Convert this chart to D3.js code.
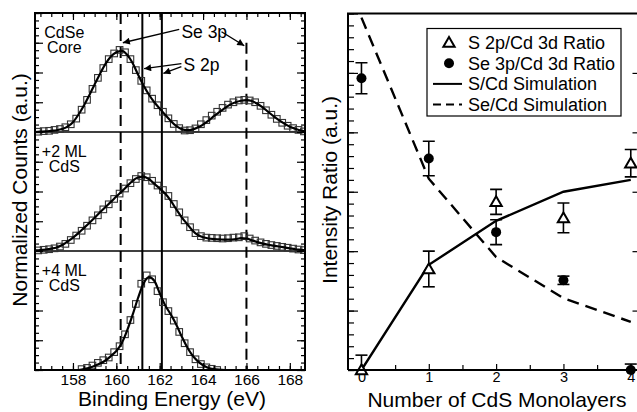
<!DOCTYPE html>
<html>
<head>
<meta charset="utf-8">
<script src="https://cdn.jsdelivr.net/npm/d3@7"></script>
<style>
  body { margin: 0; background: #fff; }
  text { font-family: "Liberation Sans", Arial, Helvetica, sans-serif; fill: #000; }
</style>
</head>
<body>
<div id="chart"></div>
<script>
// ---- data: XPS spectra (left panel) ----
const energyTicks = [158, 160, 162, 164, 166, 168];
const layerTicks = [0, 1, 2, 3, 4];

// fit curves, energy grid shared by the core and +2 ML spectra
const fitE = [156.25, 156.5, 156.75, 157, 157.25, 157.5, 157.75, 158, 158.25, 158.5, 158.75,
  159, 159.25, 159.5, 159.75, 160, 160.25, 160.5, 160.75, 161, 161.25, 161.5, 161.75,
  162, 162.25, 162.5, 162.75, 163, 163.25, 163.5, 163.75, 164, 164.25, 164.5, 164.75,
  165, 165.25, 165.5, 165.75, 166, 166.25, 166.5, 166.75, 167, 167.25, 167.5, 167.75,
  168, 168.25, 168.5, 168.75];
const coreFit = [0, 0.01, 0.02, 0.04, 0.06, 0.1, 0.18, 0.33, 0.58, 0.88, 1.23,
  1.6, 1.96, 2.29, 2.54, 2.68, 2.73, 2.6, 2.32, 1.93, 1.57, 1.26, 1.0,
  0.79, 0.58, 0.38, 0.21, 0.1, 0.06, 0.08, 0.15, 0.25, 0.38, 0.53, 0.67,
  0.8, 0.92, 1.0, 1.05, 1.07, 1.04, 0.95, 0.83, 0.68, 0.53, 0.4, 0.28,
  0.18, 0.11, 0.05, 0.02];
const ml2Fit = [0.02, 0.03, 0.05, 0.08, 0.12, 0.2, 0.32, 0.45, 0.6, 0.77, 0.94,
  1.12, 1.3, 1.48, 1.65, 1.83, 2.0, 2.18, 2.36, 2.47, 2.5, 2.42, 2.26,
  2.1, 1.93, 1.7, 1.42, 1.15, 0.92, 0.7, 0.54, 0.46, 0.42, 0.4, 0.39,
  0.38, 0.38, 0.4, 0.43, 0.42, 0.36, 0.3, 0.25, 0.21, 0.18, 0.15, 0.12,
  0.09, 0.06, 0.04, 0.02];

// measured points (squares)
const sqE = [156.4, 156.65, 156.9, 157.15, 157.4, 157.65, 157.9, 158.15, 158.4, 158.65,
  158.9, 159.15, 159.4, 159.65, 159.9, 160.15, 160.4, 160.65, 160.9, 161.15,
  161.4, 161.65, 161.9, 162.15, 162.4, 162.65, 162.9, 163.15, 163.4, 163.65,
  163.9, 164.15, 164.4, 164.65, 164.9, 165.15, 165.4, 165.65, 165.9, 166.15,
  166.4, 166.65, 166.9, 167.15, 167.4, 167.65, 167.9, 168.15, 168.4, 168.65];
const coreSq = [0.01, 0.03, 0.04, 0.07, 0.1, 0.16, 0.26, 0.45, 0.75, 1.08,
  1.45, 1.82, 2.15, 2.45, 2.64, 2.76, 2.68, 2.45, 2.08, 1.72,
  1.4, 1.12, 0.9, 0.68, 0.46, 0.27, 0.13, 0.05, 0.06, 0.12,
  0.26, 0.4, 0.55, 0.68, 0.81, 0.92, 1.0, 1.06, 1.08, 1.06,
  1.0, 0.88, 0.73, 0.58, 0.44, 0.31, 0.21, 0.13, 0.07, 0.02];
const ml2Sq = [0.02, 0.04, 0.06, 0.09, 0.15, 0.24, 0.37, 0.52, 0.68, 0.85,
  1.03, 1.2, 1.4, 1.57, 1.75, 1.93, 2.1, 2.28, 2.42, 2.52,
  2.48, 2.36, 2.2, 2.05, 1.85, 1.58, 1.3, 1.03, 0.8, 0.6,
  0.5, 0.45, 0.44, 0.43, 0.42, 0.43, 0.45, 0.46, 0.5, 0.42,
  0.35, 0.29, 0.24, 0.2, 0.17, 0.14, 0.11, 0.08, 0.05, 0.03];

// +4 ML spectrum
const ml4FitE = [158.25, 158.5, 158.75, 159, 159.25, 159.5, 159.75, 160, 160.25, 160.5,
  160.75, 161, 161.25, 161.5, 161.75, 162, 162.25, 162.5, 162.75, 163,
  163.25, 163.5, 163.75, 164, 164.25, 164.5, 164.75, 165];
const ml4Fit = [0, 0.03, 0.07, 0.14, 0.22, 0.32, 0.47, 0.64, 0.9, 1.33,
  1.85, 2.42, 2.9, 3.12, 3.0, 2.58, 2.18, 1.88, 1.55, 1.15,
  0.79, 0.5, 0.3, 0.16, 0.07, 0.03, 0.01, 0];
const ml4SqE = [158.4, 158.65, 158.9, 159.15, 159.4, 159.65, 159.9, 160.15, 160.4, 160.65,
  160.9, 161.15, 161.4, 161.65, 161.9, 162.15, 162.4, 162.65, 162.9, 163.15,
  163.4, 163.65, 163.9, 164.15, 164.4, 164.65];
const ml4Sq = [0.03, 0.07, 0.15, 0.24, 0.33, 0.42, 0.6, 0.8, 1.2, 1.68,
  2.22, 2.9, 3.18, 3.05, 2.65, 2.28, 1.98, 1.66, 1.28, 0.9,
  0.6, 0.36, 0.2, 0.09, 0.04, 0];

const spectrumOffsets = [8, 4, 0];
const panelLabels = [["CdSe", "Core"], ["+2 ML", "CdS"], ["+4 ML", "CdS"]];
const seLines = [160.2, 166.0];   // Se 3p positions (dashed)
const seLineTop = [12, 11];
const sLines = [161.2, 162.1];    // S 2p positions (solid)

// ---- data: intensity ratios (right panel) ----
const monolayers = [0, 1, 2, 3, 4];
const sRatio = [0, 1.7, 2.83, 2.56, 3.48];
const sErr = [0.25, 0.3, 0.21, 0.25, 0.23];
const seRatio = [4.91, 3.56, 2.32, 1.51, 0];
const seErr = [0.26, 0.29, 0.21, 0.07, 0.1];
const sSim = [0, 1.77, 2.51, 3.0, 3.2];
const seSim = [5.93, 3.22, 1.9, 1.21, 0.81];
const legendLabels = ["S 2p/Cd 3d Ratio", "Se 3p/Cd 3d Ratio", "S/Cd Simulation", "Se/Cd Simulation"];

// ---- svg ----
const W = 637, H = 412;
const svg = d3.select('#chart').append('svg')
  .attr('width', W).attr('height', H);

svg.append('defs').append('marker')
  .attr('id', 'arrow')
  .attr('viewBox', '0 0 10 10')
  .attr('refX', 10).attr('refY', 5)
  .attr('markerWidth', 10).attr('markerHeight', 7)
  .attr('markerUnits', 'userSpaceOnUse')
  .attr('orient', 'auto')
  .append('path').attr('d', 'M0,0 L10,5 L0,10 Z').attr('fill', '#000');

// ================= left panel =================
const L = { x0: 35, x1: 305, y0: 13, y1: 370 };
const xE = d3.scaleLinear().domain([156.25, 168.7]).range([L.x0, L.x1]);
const yL = d3.scaleLinear().domain([0, 12]).range([L.y1, L.y0]);

svg.append('clipPath').attr('id', 'clipL')
  .append('rect').attr('x', L.x0).attr('y', L.y0)
  .attr('width', L.x1 - L.x0).attr('height', L.y1 - L.y0);

const left = svg.append('g');
const plotL = left.append('g').attr('clip-path', 'url(#clipL)');

// baselines between stacked spectra
plotL.selectAll('.base').data(spectrumOffsets.slice(0, 2)).enter()
  .append('line')
  .attr('x1', L.x0).attr('x2', L.x1)
  .attr('y1', d => yL(d)).attr('y2', d => yL(d))
  .attr('stroke', '#000').attr('stroke-width', 1.5);

// reference lines
plotL.selectAll('.se').data(seLines).enter()
  .append('line')
  .attr('x1', d => xE(d)).attr('x2', d => xE(d))
  .attr('y1', (d, i) => yL(seLineTop[i])).attr('y2', L.y1)
  .attr('stroke', '#000').attr('stroke-width', 2)
  .attr('stroke-dasharray', '11,6');
plotL.selectAll('.s').data(sLines).enter()
  .append('line')
  .attr('x1', d => xE(d)).attr('x2', d => xE(d))
  .attr('y1', L.y0).attr('y2', L.y1)
  .attr('stroke', '#000').attr('stroke-width', 2);

const spectra = [
  { fe: fitE, fit: coreFit, se: sqE, sq: coreSq },
  { fe: fitE, fit: ml2Fit, se: sqE, sq: ml2Sq },
  { fe: ml4FitE, fit: ml4Fit, se: ml4SqE, sq: ml4Sq }
];

spectra.forEach((s, k) => {
  const off = spectrumOffsets[k];
  const line = d3.line()
    .x((d, i) => xE(s.fe[i]))
    .y(d => yL(d + off))
    .curve(d3.curveMonotoneX);
  plotL.selectAll('.sq' + k).data(s.sq).enter()
    .append('rect')
    .attr('x', (d, i) => xE(s.se[i]) - 3.3)
    .attr('y', d => yL(d + off) - 3.3)
    .attr('width', 6.6).attr('height', 6.6)
    .attr('fill', 'none').attr('stroke', '#333').attr('stroke-width', 1.1);
  plotL.append('path').datum(s.fit)
    .attr('d', line)
    .attr('fill', 'none').attr('stroke', '#000').attr('stroke-width', 2.2);
});

// axes (ticks inward)
const minorE = d3.range(156.5, 168.7, 0.5);
left.append('g').attr('transform', `translate(0,${L.y1})`)
  .call(d3.axisBottom(xE).tickValues(minorE).tickSize(-4).tickFormat(''));
left.append('g').attr('transform', `translate(0,${L.y1})`)
  .call(d3.axisBottom(xE).tickValues(energyTicks).tickSize(-7).tickPadding(4))
  .selectAll('text').style('font-size', '15.5px');
left.append('g').attr('transform', `translate(0,${L.y0})`)
  .call(d3.axisTop(xE).tickValues(minorE).tickSize(-4).tickFormat(''));
left.append('g').attr('transform', `translate(0,${L.y0})`)
  .call(d3.axisTop(xE).tickValues(energyTicks).tickSize(-7).tickFormat(''));

const minorY = d3.range(0, 12.01, 0.25);
const majorY = d3.range(0, 12.01, 1);
[[d3.axisLeft, L.x0], [d3.axisRight, L.x1]].forEach(([ax, x]) => {
  left.append('g').attr('transform', `translate(${x},0)`)
    .call(ax(yL).tickValues(minorY).tickSize(-4).tickFormat(''));
  left.append('g').attr('transform', `translate(${x},0)`)
    .call(ax(yL).tickValues(majorY).tickSize(-8).tickFormat(''));
});
left.selectAll('.domain').remove();
left.selectAll('.tick line').attr('stroke', '#000').attr('stroke-width', 1.2);

left.append('rect')
  .attr('x', L.x0).attr('y', L.y0)
  .attr('width', L.x1 - L.x0).attr('height', L.y1 - L.y0)
  .attr('fill', 'none').attr('stroke', '#000').attr('stroke-width', 2);

// panel labels (two separate lines each)
panelLabels.forEach((lab, k) => {
  lab.forEach((s, j) => left.append('text')
    .attr('x', xE(157.6))
    .attr('y', yL(spectrumOffsets[k] + 3.17) + j * 15.5)
    .attr('text-anchor', 'middle').style('font-size', '16px')
    .text(s));
});

// peak annotations
left.append('text').attr('x', xE(163.0)).attr('y', yL(11.16))
  .style('font-size', '17.5px').text('Se 3p');
left.append('text').attr('x', xE(163.1)).attr('y', yL(10.05))
  .style('font-size', '17.5px').text('S 2p');
const arrows = [
  [162.9, 11.45, 160.3, 11.0],
  [164.85, 11.37, 165.9, 10.9],
  [163.0, 10.3, 161.28, 10.13],
  [163.0, 10.2, 162.17, 9.97]
];
left.selectAll('.arr').data(arrows).enter()
  .append('line')
  .attr('x1', d => xE(d[0])).attr('y1', d => yL(d[1]))
  .attr('x2', d => xE(d[2])).attr('y2', d => yL(d[3]))
  .attr('stroke', '#000').attr('stroke-width', 1.4)
  .attr('marker-end', 'url(#arrow)');

left.append('text')
  .attr('transform', 'translate(27,190) rotate(-90)')
  .attr('text-anchor', 'middle').style('font-size', '21px')
  .text('Normalized Counts (a.u.)');
left.append('text')
  .attr('x', (L.x0 + L.x1) / 2 + 2).attr('y', 406)
  .attr('text-anchor', 'middle').style('font-size', '21px')
  .text('Binding Energy (eV)');

// ================= right panel =================
const R = { x0: 348, x1: 637.5, y0: 13.5, y1: 370 };
const xN = d3.scaleLinear().domain([-0.2, 4.1]).range([R.x0, R.x1]);
const yR = d3.scaleLinear().domain([0, 6]).range([R.y1, R.y0]);

svg.append('clipPath').attr('id', 'clipR')
  .append('rect').attr('x', R.x0).attr('y', R.y0)
  .attr('width', R.x1 - R.x0).attr('height', R.y1 - R.y0);

const right = svg.append('g');

right.append('g').attr('transform', `translate(0,${R.y1})`)
  .call(d3.axisBottom(xN).tickValues([0.5, 1.5, 2.5, 3.5]).tickSize(-5).tickFormat(''));
right.append('g').attr('transform', `translate(0,${R.y1})`)
  .call(d3.axisBottom(xN).tickValues(layerTicks).tickSize(-6).tickPadding(2)
    .tickFormat(d3.format('d')))
  .selectAll('text').style('font-size', '14.5px');
right.append('g').attr('transform', `translate(${R.x0},0)`)
  .call(d3.axisLeft(yR).tickValues(d3.range(0, 6.01, 0.2)).tickSize(-6).tickFormat(''));
right.append('g').attr('transform', `translate(${R.x0},0)`)
  .call(d3.axisLeft(yR).tickValues(d3.range(0, 6.01, 1)).tickSize(-10).tickFormat(''));
right.append('g').attr('transform', `translate(${R.x1},0)`)
  .call(d3.axisRight(yR).tickValues(d3.range(1, 6, 1)).tickSize(-5).tickFormat(''));
right.selectAll('.domain').remove();
right.selectAll('.tick line').attr('stroke', '#000').attr('stroke-width', 1.2);

const plotR = right.append('g').attr('clip-path', 'url(#clipR)');

const simLine = d3.line().x((d, i) => xN(monolayers[i])).y(d => yR(d));
plotR.append('path').datum(sSim).attr('d', simLine)
  .attr('fill', 'none').attr('stroke', '#000').attr('stroke-width', 2.4);
plotR.append('path').datum(seSim).attr('d', simLine)
  .attr('fill', 'none').attr('stroke', '#000').attr('stroke-width', 2.4)
  .attr('stroke-dasharray', '12,7');

// error bars
function errBars(vals, errs) {
  const g = plotR.append('g').attr('stroke', '#000').attr('stroke-width', 1.6);
  vals.forEach((v, i) => {
    const x = xN(monolayers[i]);
    g.append('line').attr('x1', x).attr('x2', x)
      .attr('y1', yR(v - errs[i])).attr('y2', yR(v + errs[i]));
    [v - errs[i], v + errs[i]].forEach(e => g.append('line')
      .attr('x1', x - 6).attr('x2', x + 6).attr('y1', yR(e)).attr('y2', yR(e)));
  });
}
errBars(sRatio, sErr);
errBars(seRatio, seErr);

const tri = d3.symbol().type(d3.symbolTriangle).size(55);
right.selectAll('.tri').data(sRatio).enter()
  .append('path')
  .attr('d', tri)
  .attr('transform', (d, i) => `translate(${xN(monolayers[i])},${yR(d) + 1})`)
  .attr('fill', '#fff').attr('stroke', '#000').attr('stroke-width', 2);
right.selectAll('.dot').data(seRatio).enter()
  .append('circle')
  .attr('cx', (d, i) => xN(monolayers[i])).attr('cy', d => yR(d))
  .attr('r', 5).attr('fill', '#000');

right.append('path')
  .attr('d', `M${R.x0},${R.y1}H${R.x1}M${R.x0},${R.y1}V${R.y0}H${R.x1}`)
  .attr('fill', 'none').attr('stroke', '#000').attr('stroke-width', 2);

// legend
const lg = right.append('g');
lg.append('rect').attr('x', 427).attr('y', 28.5).attr('width', 194).attr('height', 87.5)
  .attr('fill', '#fff').attr('stroke', '#000').attr('stroke-width', 1.2);
legendLabels.forEach((lab, i) => {
  const y = 42.5 + i * 20.7;
  lg.append('text').attr('x', 468).attr('y', y).attr('dy', '0.36em')
    .style('font-size', '18px').text(lab);
  if (i === 0) {
    lg.append('path').attr('d', tri).attr('transform', `translate(449,${y + 1})`)
      .attr('fill', '#fff').attr('stroke', '#000').attr('stroke-width', 2);
  } else if (i === 1) {
    lg.append('circle').attr('cx', 449).attr('cy', y).attr('r', 5).attr('fill', '#000');
  } else {
    lg.append('line').attr('x1', 433).attr('x2', 462).attr('y1', y).attr('y2', y)
      .attr('stroke', '#000').attr('stroke-width', 2)
      .attr('stroke-dasharray', i === 3 ? '8,5' : null);
  }
});

right.append('text')
  .attr('transform', 'translate(337,190) rotate(-90)')
  .attr('text-anchor', 'middle').style('font-size', '21px')
  .text('Intensity Ratio (a.u.)');
right.append('text')
  .attr('x', 497).attr('y', 406.5)
  .attr('text-anchor', 'middle').style('font-size', '21px')
  .text('Number of CdS Monolayers');
</script>
</body>
</html>
